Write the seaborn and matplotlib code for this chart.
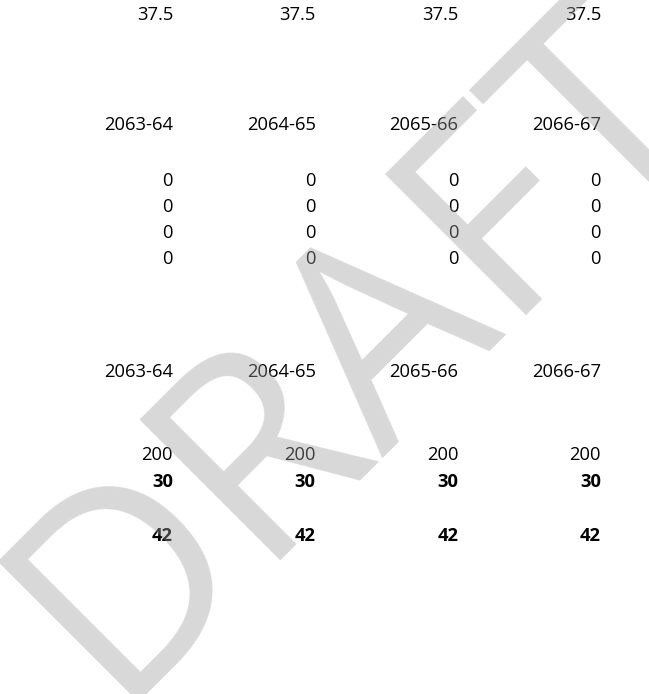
import matplotlib
matplotlib.use("Agg")
import matplotlib.pyplot as plt
import seaborn as sns
import pandas as pd

# ---- data ----
columns = [0, 1, 2, 3]
rate = ["37.5", "37.5", "37.5", "37.5"]
years_top = ["2063-64", "2064-65", "2065-66", "2066-67"]
zeros_1 = [0, 0, 0, 0]
zeros_2 = [0, 0, 0, 0]
zeros_3 = [0, 0, 0, 0]
zeros_4 = [0, 0, 0, 0]
years_bottom = ["2063-64", "2064-65", "2065-66", "2066-67"]
value_200 = [200, 200, 200, 200]
value_30 = [30, 30, 30, 30]
value_42 = [42, 42, 42, 42]
watermark = "DRAFT"

sns.set_theme(style="white")
FONT = ["Open Sans", "DejaVu Sans"]
plt.rcParams["font.family"] = FONT

W, H, DPI = 649, 694, 100
fig = plt.figure(figsize=(W / DPI, H / DPI), dpi=DPI)
ax = fig.add_axes([0, 0, 1, 1])
ax.set_axis_off()

# x: column index (right edge of each cell), y: pixel rows from top
col_px0, col_step = 173.0, 142.7
ax.set_xlim(-col_px0 / col_step, (W - col_px0) / col_step)
ax.set_ylim(H, 0)

rows = [
    (rate, 19.5, "normal"),
    (years_top, 129.5, "normal"),
    (zeros_1, 185.5, "normal"),
    (zeros_2, 211.5, "normal"),
    (zeros_3, 238.0, "normal"),
    (zeros_4, 264.0, "normal"),
    (years_bottom, 377.0, "normal"),
    (value_200, 460.0, "normal"),
    (value_30, 487.0, "bold"),
    (value_42, 541.0, "bold"),
]

records = []
for vals, ybase, weight in rows:
    for c, v in zip(columns, vals):
        records.append({"col": c, "y": ybase, "label": str(v), "weight": weight})
table = pd.DataFrame(records)

for _, r in table.iterrows():
    ax.text(r["col"], r["y"], r["label"], ha="right", va="baseline",
            fontsize=13.2, fontweight=r["weight"], color="black", zorder=2)

# watermark (figure pixel coordinates, origin top-left)
fig.text(410 / W, 1 - 403 / H, watermark, rotation=45, rotation_mode="anchor",
         ha="center", va="baseline", fontsize=200, color=(0.62, 0.62, 0.62),
         alpha=0.4, zorder=5, family=FONT)

fig.savefig("out.png", dpi=DPI)
